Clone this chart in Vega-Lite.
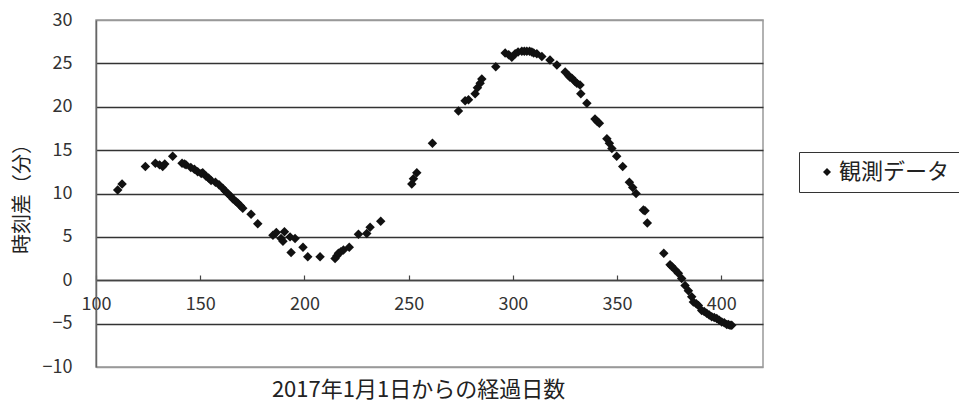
{
  "$schema": "https://vega.github.io/schema/vega-lite/v6.json",
  "width": 667,
  "height": 347,
  "autosize": {"type": "none"},
  "padding": {"left": 96, "top": 20, "right": 196, "bottom": 38},
  "background": "white",
  "config": {
    "view": {"stroke": "#999", "strokeWidth": 1.5},
    "font": "Noto Sans CJK JP"
  },
  "data": {
    "values": [
      {"day": 110.4, "diff": 10.4}, {"day": 112.5, "diff": 11.1}, {"day": 123.7, "diff": 13.1},
      {"day": 128.5, "diff": 13.5}, {"day": 130.5, "diff": 13.3}, {"day": 132, "diff": 13.1},
      {"day": 133, "diff": 13.4}, {"day": 136.8, "diff": 14.3}, {"day": 141.3, "diff": 13.5},
      {"day": 142.5, "diff": 13.4}, {"day": 143.2, "diff": 13.3}, {"day": 145.5, "diff": 13.0},
      {"day": 147.2, "diff": 12.8}, {"day": 148.8, "diff": 12.5}, {"day": 150.5, "diff": 12.3},
      {"day": 151.2, "diff": 12.4}, {"day": 152.8, "diff": 12.0}, {"day": 154, "diff": 11.8},
      {"day": 155.2, "diff": 11.5}, {"day": 157.3, "diff": 11.3}, {"day": 159, "diff": 11.0},
      {"day": 160.8, "diff": 10.6}, {"day": 162, "diff": 10.3}, {"day": 163.2, "diff": 10.0},
      {"day": 164.5, "diff": 9.7}, {"day": 165.6, "diff": 9.4}, {"day": 167, "diff": 9.1},
      {"day": 168, "diff": 8.9}, {"day": 169.3, "diff": 8.6}, {"day": 170.4, "diff": 8.3},
      {"day": 174.4, "diff": 7.6}, {"day": 177.6, "diff": 6.5}, {"day": 184.9, "diff": 5.2},
      {"day": 186.5, "diff": 5.5}, {"day": 188.8, "diff": 4.8}, {"day": 189.7, "diff": 4.5},
      {"day": 190.4, "diff": 5.6}, {"day": 193.1, "diff": 5.0}, {"day": 193.6, "diff": 3.2},
      {"day": 195.5, "diff": 4.8}, {"day": 199.3, "diff": 3.8}, {"day": 201.6, "diff": 2.7},
      {"day": 207.5, "diff": 2.7}, {"day": 214.7, "diff": 2.5}, {"day": 215.5, "diff": 2.8},
      {"day": 216.3, "diff": 3.1}, {"day": 217.5, "diff": 3.3}, {"day": 218.7, "diff": 3.5},
      {"day": 221.5, "diff": 3.8}, {"day": 225.9, "diff": 5.3}, {"day": 229.9, "diff": 5.4},
      {"day": 231.5, "diff": 6.1}, {"day": 236.6, "diff": 6.8}, {"day": 251.5, "diff": 11.1},
      {"day": 252.3, "diff": 11.7}, {"day": 253.9, "diff": 12.4}, {"day": 261.4, "diff": 15.8},
      {"day": 273.9, "diff": 19.5}, {"day": 277.1, "diff": 20.7}, {"day": 278.7, "diff": 20.8},
      {"day": 281.9, "diff": 21.5}, {"day": 283, "diff": 22.2}, {"day": 284.3, "diff": 22.7},
      {"day": 285.1, "diff": 23.2}, {"day": 291.8, "diff": 24.6}, {"day": 296.3, "diff": 26.2},
      {"day": 298, "diff": 26.0}, {"day": 299.5, "diff": 25.7}, {"day": 301.1, "diff": 26.1},
      {"day": 302.5, "diff": 26.3}, {"day": 304.3, "diff": 26.4}, {"day": 305.5, "diff": 26.4},
      {"day": 306.7, "diff": 26.4}, {"day": 308, "diff": 26.4}, {"day": 309.1, "diff": 26.3},
      {"day": 310, "diff": 26.2}, {"day": 311.5, "diff": 26.1}, {"day": 313.9, "diff": 25.8},
      {"day": 317.8, "diff": 25.4}, {"day": 321.1, "diff": 24.8}, {"day": 325.1, "diff": 24.0},
      {"day": 326.7, "diff": 23.6}, {"day": 327.4, "diff": 23.4}, {"day": 328.3, "diff": 23.3},
      {"day": 329.8, "diff": 22.9}, {"day": 330.7, "diff": 22.7}, {"day": 332.2, "diff": 22.5},
      {"day": 332.6, "diff": 21.5}, {"day": 335.5, "diff": 20.4}, {"day": 339.4, "diff": 18.6},
      {"day": 340.5, "diff": 18.3}, {"day": 341.5, "diff": 18.1}, {"day": 345.1, "diff": 16.3},
      {"day": 346.3, "diff": 15.8}, {"day": 347.5, "diff": 15.2}, {"day": 349.8, "diff": 14.3},
      {"day": 352.7, "diff": 13.1}, {"day": 355.9, "diff": 11.3}, {"day": 357.5, "diff": 10.7},
      {"day": 359.1, "diff": 10.0}, {"day": 362.6, "diff": 8.1}, {"day": 363.4, "diff": 8.0},
      {"day": 364.5, "diff": 6.6}, {"day": 372.4, "diff": 3.1}, {"day": 375.4, "diff": 1.8},
      {"day": 376.2, "diff": 1.6}, {"day": 377.8, "diff": 1.2}, {"day": 379.4, "diff": 0.8},
      {"day": 381, "diff": 0.2}, {"day": 382.6, "diff": -0.6}, {"day": 384.2, "diff": -1.2},
      {"day": 385.8, "diff": -1.9}, {"day": 386.6, "diff": -2.5}, {"day": 388, "diff": -2.7},
      {"day": 389, "diff": -2.9}, {"day": 390.6, "diff": -3.5}, {"day": 391.8, "diff": -3.6},
      {"day": 393, "diff": -3.8}, {"day": 394.2, "diff": -4.0}, {"day": 395.4, "diff": -4.2},
      {"day": 396.6, "diff": -4.3}, {"day": 397.8, "diff": -4.4}, {"day": 399, "diff": -4.6},
      {"day": 400.2, "diff": -4.8}, {"day": 401.4, "diff": -4.9}, {"day": 402.6, "diff": -5.1},
      {"day": 403.4, "diff": -5.1}, {"day": 404.2, "diff": -5.2}, {"day": 405, "diff": -5.2}
    ]
  },
  "mark": {"type": "point", "shape": "diamond", "filled": true, "color": "#111", "size": 90, "opacity": 1},
  "encoding": {
    "x": {
      "field": "day",
      "type": "quantitative",
      "scale": {"domain": [100, 420], "nice": false, "zero": false},
      "axis": {
        "title": "2017年1月1日からの経過日数",
        "titleFontSize": 22,
        "titleFontWeight": "normal",
        "titleColor": "#222",
        "titleX": 322,
        "titleY": 109,
        "titleBaseline": "middle",
        "values": [100, 150, 200, 250, 300, 350, 400],
        "offset": -87,
        "grid": false,
        "domainColor": "#444",
        "domainWidth": 1.5,
        "tickColor": "#444",
        "tickSize": -5,
        "tickWidth": 1.2,
        "labelFontSize": 18,
        "labelColor": "#333",
        "labelPadding": 20,
        "labelFlush": false,
        "labelOverlap": false,
        "labelBound": false
      }
    },
    "y": {
      "field": "diff",
      "type": "quantitative",
      "scale": {"domain": [-10, 30], "nice": false, "zero": false},
      "axis": {
        "title": "時刻差（分）",
        "titleFontSize": 20,
        "titleFontWeight": "normal",
        "titleColor": "#222",
        "titleX": -74,
        "titleY": 173.5,
        "titleAngle": -90,
        "titleAlign": "center",
        "titleBaseline": "middle",
        "values": [-10, -5, 0, 5, 10, 15, 20, 25, 30],
        "grid": true,
        "gridColor": {"condition": {"test": "datum.value == 30 || datum.value == -10", "value": "#999"}, "value": "#333"},
        "gridWidth": 1.5,
        "gridOpacity": 1,
        "domainColor": "#666",
        "domainWidth": 1.5,
        "ticks": false,
        "labelFontSize": 18,
        "labelColor": "#333",
        "labelPadding": 24,
        "labelFlush": false,
        "labelOverlap": false,
        "labelBound": false
      }
    },
    "shape": {
      "datum": "観測データ",
      "type": "nominal",
      "scale": {"range": ["diamond"]},
      "legend": {
        "title": null,
        "orient": "none",
        "legendX": 703,
        "legendY": 132,
        "strokeColor": "#333",
        "padding": 9,
        "symbolOffset": 8,
        "symbolSize": 64,
        "symbolFillColor": "#111",
        "symbolStrokeColor": "#111",
        "labelFontSize": 22,
        "labelColor": "#222",
        "labelOffset": 1
      }
    }
  }
}
